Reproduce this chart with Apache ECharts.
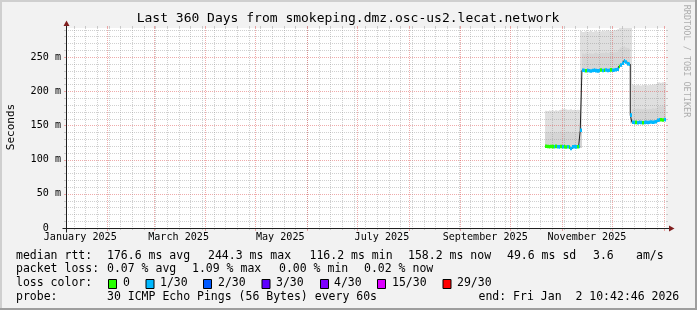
<!DOCTYPE html>
<html><head><meta charset="utf-8">
<script src="https://cdn.jsdelivr.net/npm/echarts@6/dist/echarts.min.js"></script>
<style>html,body{margin:0;padding:0;background:#f2f2f2}#c{width:697px;height:310px}</style>
</head><body><div id="c"></div>
<script>
// ---------------- data ----------------
const TITLE = 'Last 360 Days from smokeping.dmz.osc-us2.lecat.network';
const DAY = 86400000;
const END_TIME = Date.UTC(2026, 0, 2, 10, 42, 46);
const SPAN_DAYS = 360;
const DATA_START = Date.UTC(2025, 9, 22); // first daily bucket (Oct 22 2025)

// daily median RTT (ms)
const medianMs = [
  119.4,119.1,118.8,119.2,119.0,118.7,119.3,118.9,118.6,119.1,118.8,119.0,118.5,118.9,118.2,116.2,118.7,119.0,118.6,118.9,119.3,
  143.0,
  230.5,230.2,229.8,230.4,230.0,229.6,230.3,230.8,230.1,229.7,230.4,230.9,230.2,230.6,231.0,230.3,230.7,231.2,230.5,230.9,231.3,232.0,
  236.2,238.4,241.0,244.3,242.8,240.1,239.4,
  165.0,
  154.6,154.1,154.4,153.9,154.5,154.2,153.8,154.3,154.7,154.2,154.6,155.0,154.5,155.1,155.4,
  157.6,158.1,158.4,157.9,158.5,158.2
];
// lowest ping of the bucket (ms)
const minPingMs = [
  117.8,117.6,117.2,117.5,117.4,117.0,117.6,117.3,116.9,117.4,117.1,117.3,116.8,117.2,116.5,114.9,117.0,117.3,116.9,117.2,117.5,
  117.0,
  228.6,228.3,227.9,228.5,228.1,227.7,228.4,228.8,228.2,227.8,228.5,229.0,228.3,228.7,229.1,228.4,228.8,229.3,228.6,229.0,229.4,230.1,
  233.8,235.9,238.2,241.0,239.6,237.3,236.8,
  153.0,
  152.7,152.2,152.5,152.0,152.6,152.3,151.9,152.4,152.8,152.3,152.7,153.1,152.6,153.2,153.5,
  155.6,156.1,156.4,155.9,156.6,156.3
];
// upper edge of the denser smoke (ms)
const smokeMidMs = [
  139.5,140.2,139.8,140.5,139.6,140.8,140.0,139.4,140.6,141.2,140.3,139.9,140.7,141.0,140.2,139.6,140.8,140.1,139.7,140.4,140.9,
  145.0,
  255.0,254.2,255.6,254.8,256.0,255.3,254.6,255.9,256.4,255.1,254.7,255.8,256.2,255.4,256.8,255.9,256.5,257.0,256.3,257.2,256.8,258.0,
  262.0,264.0,265.0,266.0,264.0,263.0,262.0,
  170.0,
  173.5,174.2,173.8,174.6,173.9,174.4,173.6,174.8,174.1,173.7,174.5,174.0,174.9,174.3,175.2,
  177.6,178.2,177.8,178.5,178.0,178.4
];
// highest ping of the bucket (ms)
const maxPingMs = [
  171.5,171.0,172.0,171.3,171.8,171.0,172.2,171.5,172.5,173.0,173.8,174.2,173.5,173.0,172.8,173.5,172.6,173.2,172.4,173.0,172.5,
  288.0,
  286.5,287.0,287.8,286.9,287.5,288.2,287.0,287.6,288.4,287.2,288.0,287.5,288.6,287.8,288.2,289.0,288.4,287.9,288.8,289.5,289.0,290.5,
  296.0,297.0,296.0,298.0,296.0,297.0,295.0,
  296.0,
  209.5,209.0,208.6,209.3,208.8,208.2,209.0,209.6,209.2,208.7,209.4,209.0,209.8,209.3,210.0,
  212.6,213.2,212.4,213.0,212.8,213.4
];
// loss class index per bucket (index into lossLabels)
const lossIdx = [
  0,0,0,0,0,1,0,1,1,0,1,0,0,1,0,1,1,1,1,0,1,
  1,
  1,1,0,1,1,1,1,1,1,1,1,0,1,0,1,1,1,0,1,1,1,1,0,1,1,1,1,1,1,
  1,
  1,1,0,1,1,1,0,1,1,1,1,1,1,1,1,1,1,0,0,1,1
];

const lossLabels = ['0','1/30','2/30','3/30','4/30','15/30','29/30'];
const lossColors = ['#26ff00','#00b8ff','#0059ff','#5e00ff','#7e00ff','#dd00ff','#ff0000'];

const xLabelText = ['January 2025','March 2025','May 2025','July 2025','September 2025','November 2025'];
const xLabelYear = [2025,2025,2025,2025,2025,2025];
const xLabelMonth = [0,2,4,6,8,10];

const rttStatVals = [176.6, 244.3, 116.2, 158.2];
const rttStatNames = ['avg','max','min','now'];
const rttSd = 49.6;
const rttAmS = 3.6;
const lossStatVals = [0.07, 1.09, 0.00, 0.02];
const probeText = '30 ICMP Echo Pings (56 Bytes) every 60s';
const endText = 'end: Fri Jan  2 10:42:46 2026';

// ---------------- layout / style ----------------
const Y_MAX = 292.4;
const GRID_COL = 'rgba(143,143,143,0.42)';
const MGRID_COL = 'rgba(222,79,79,0.48)';
const SMOKE_LIGHT = '#dfdfdf';
const SMOKE_DARK = '#d5d5d5';
const BAND_HALF = 2.6; // ms
const MONO = '"DejaVu Sans Mono", monospace';

const xMin = END_TIME - SPAN_DAYS * DAY, xMax = END_TIME;

const smokeData = medianMs.map((m, i) => [DATA_START + i * DAY, DATA_START + (i + 1) * DAY, minPingMs[i], smokeMidMs[i], maxPingMs[i]]);
const bandData = medianMs.map((m, i) => [DATA_START + i * DAY, DATA_START + (i + 1) * DAY, m, lossIdx[i]]);
const lineData = medianMs.map((m, i) => [DATA_START + i * DAY, m]);
lineData.push([END_TIME, medianMs[medianMs.length - 1]]);

const hGridData = [];
for (let k = 1; k * 10 < Y_MAX; k++) hGridData.push([xMin, k * 10, k % 5 === 0 ? 1 : 0]);
const vGridData = [];
for (let t = Date.UTC(2025, 0, 5); t < xMax; t += 7 * DAY) if (t > xMin) vGridData.push([t, 0, 0]);
for (let m = 0; m < 14; m++) { const t = Date.UTC(2025, m, 1); if (t > xMin && t < xMax) vGridData.push([t, 0, 1]); }

const xLabelTimes = xLabelText.map((s, i) => Date.UTC(xLabelYear[i], xLabelMonth[i], 1) + 15 * DAY);

function clipTo(cs, r) {
  return echarts.graphic.clipRectByRect(r, { x: cs.x, y: cs.y, width: cs.width, height: cs.height });
}

const chart = echarts.init(document.getElementById('c'), null, { renderer: 'canvas', width: 697, height: 310 });

chart.setOption({
  animation: false,
  backgroundColor: '#f2f2f2',
  grid: { left: 66, top: 28, width: 600, height: 200, show: true, backgroundColor: '#ffffff', borderWidth: 0, containLabel: false, outerBoundsMode: 'none' },
  xAxis: {
    type: 'value', min: xMin, max: xMax,
    axisLine: { show: false }, axisTick: { show: false }, splitLine: { show: false },
    axisLabel: {
      customValues: xLabelTimes,
      margin: 4,
      fontFamily: MONO, fontSize: 10.1, color: '#000',
      formatter: v => { const i = xLabelTimes.indexOf(v); return i >= 0 ? xLabelText[i] : ''; }
    }
  },
  yAxis: {
    type: 'value', min: 0, max: Y_MAX, interval: 50,
    axisLine: { show: false }, axisTick: { show: false }, splitLine: { show: false },
    axisLabel: {
      margin: 5, showMaxLabel: false, showMinLabel: true,
      fontFamily: MONO, fontSize: 10.1, color: '#000',
      formatter: v => v === 0 ? '0  ' : (v + ' m')
    }
  },
  series: [
    {
      type: 'custom', name: 'smoke', z: 1, silent: true,
      data: smokeData, encode: { x: [0, 1], y: [2, 3, 4] },
      renderItem: (params, api) => {
        const cs = params.coordSys;
        const t0 = api.value(0), t1 = api.value(1);
        const pLo = api.coord([t0, api.value(2)]);
        const pMid = api.coord([t1, api.value(3)]);
        const pHi = api.coord([t1, api.value(4)]);
        const x0 = Math.round(pLo[0]), x1 = Math.round(pHi[0]);
        const r1 = clipTo(cs, { x: x0, y: pHi[1], width: x1 - x0, height: pLo[1] - pHi[1] });
        const r2 = clipTo(cs, { x: x0, y: pMid[1], width: x1 - x0, height: pLo[1] - pMid[1] });
        const ch = [];
        if (r1) ch.push({ type: 'rect', shape: r1, style: { fill: SMOKE_LIGHT } });
        if (r2) ch.push({ type: 'rect', shape: r2, style: { fill: SMOKE_DARK } });
        return { type: 'group', children: ch };
      }
    },
    {
      type: 'custom', name: 'hgrid', z: 2, silent: true,
      data: hGridData,
      renderItem: (params, api) => {
        const cs = params.coordSys;
        const y = Math.round(api.coord([api.value(0), api.value(1)])[1]) + 0.5;
        const col = api.value(2) === 1 ? MGRID_COL : GRID_COL;
        const a = cs.x, b = cs.x + cs.width;
        return { type: 'group', children: [
          { type: 'line', shape: { x1: a, y1: y, x2: b, y2: y }, style: { stroke: col, lineWidth: 1, lineDash: [1, 1] } },
          { type: 'line', shape: { x1: a - 2, y1: y, x2: a, y2: y }, style: { stroke: col, lineWidth: 1 } },
          { type: 'line', shape: { x1: b, y1: y, x2: b + 2, y2: y }, style: { stroke: col, lineWidth: 1 } }
        ] };
      }
    },
    {
      type: 'custom', name: 'vgrid', z: 2, silent: true,
      data: vGridData,
      renderItem: (params, api) => {
        const cs = params.coordSys;
        const x = Math.round(api.coord([api.value(0), 0])[0]) + 0.5;
        const major = api.value(2) === 1;
        const col = major ? MGRID_COL : GRID_COL;
        const top = cs.y, bot = cs.y + cs.height;
        return { type: 'group', children: [
          { type: 'line', shape: { x1: x, y1: top, x2: x, y2: bot }, style: { stroke: col, lineWidth: 1, lineDash: [1, 1] } },
          { type: 'line', shape: { x1: x, y1: top - 2, x2: x, y2: top }, style: { stroke: col, lineWidth: 1 } },
          { type: 'line', shape: { x1: x, y1: bot, x2: x, y2: bot + (major ? 3 : 2) }, style: { stroke: col, lineWidth: 1 } }
        ] };
      }
    },
    {
      type: 'line', name: 'median', z: 3, silent: true,
      data: lineData, step: 'end', showSymbol: false, symbol: 'none',
      lineStyle: { color: '#202020', width: 1 }
    },
    {
      type: 'custom', name: 'loss', z: 4, silent: true,
      data: bandData, encode: { x: [0, 1], y: 2 },
      renderItem: (params, api) => {
        const cs = params.coordSys;
        const t0 = api.value(0), t1 = api.value(1), m = api.value(2);
        const pA = api.coord([t0, m + BAND_HALF]);
        const pB = api.coord([t1, m - BAND_HALF]);
        const x0 = Math.round(pA[0]), x1 = Math.round(pB[0]);
        const r = clipTo(cs, { x: x0, y: pA[1], width: x1 - x0, height: pB[1] - pA[1] });
        if (!r) return null;
        return { type: 'rect', shape: r, style: { fill: lossColors[api.value(3)] } };
      }
    }
  ]
});

// ---------- decorations: frame, axes, arrows, texts ----------
const p0 = chart.convertToPixel({ gridIndex: 0 }, [xMin, 0]);
const p1 = chart.convertToPixel({ gridIndex: 0 }, [xMax, Y_MAX]);
const ax = Math.round(p0[0]) + 0.5, ay = Math.round(p0[1]) + 0.5;
const gTop = Math.round(p1[1]), gRight = Math.round(p1[0]);
const AXIS_COL = '#1f1f1f', ARROW_COL = '#801f1f';

const g = [];
// frame
g.push({ type: 'rect', shape: { x: 0, y: 0, width: 697, height: 2 }, style: { fill: '#cfcfcf' }, z: 100 });
g.push({ type: 'rect', shape: { x: 0, y: 0, width: 2, height: 310 }, style: { fill: '#cfcfcf' }, z: 100 });
g.push({ type: 'rect', shape: { x: 695, y: 0, width: 2, height: 310 }, style: { fill: '#9e9e9e' }, z: 101 });
g.push({ type: 'rect', shape: { x: 0, y: 308, width: 697, height: 2 }, style: { fill: '#9e9e9e' }, z: 101 });
// axes
g.push({ type: 'line', shape: { x1: ax, y1: ay + 4, x2: ax, y2: gTop - 2 }, style: { stroke: AXIS_COL, lineWidth: 1 }, z: 50 });
g.push({ type: 'line', shape: { x1: ax - 4, y1: ay, x2: gRight + 3, y2: ay }, style: { stroke: AXIS_COL, lineWidth: 1 }, z: 50 });
g.push({ type: 'polygon', shape: { points: [[ax, gTop - 7.5], [ax - 3, gTop - 2], [ax + 3, gTop - 2]] }, style: { fill: ARROW_COL }, z: 51 });
g.push({ type: 'polygon', shape: { points: [[gRight + 8.5, ay], [gRight + 3, ay - 3], [gRight + 3, ay + 3]] }, style: { fill: ARROW_COL }, z: 51 });

function txt(text, x, y, size) {
  return { type: 'text', x: x, y: y, z: 60, style: { text: text, fontFamily: MONO, fontSize: size, fill: '#000', align: 'left', verticalAlign: 'middle' } };
}
// title
g.push({ type: 'text', x: 348, y: 19, z: 60, style: { text: TITLE, fontFamily: MONO, fontSize: 13, fill: '#000', align: 'center', verticalAlign: 'middle' } });
// y axis name
g.push({ type: 'text', x: 11, y: 127, rotation: Math.PI / 2, z: 60, style: { text: 'Seconds', fontFamily: MONO, fontSize: 11, fill: '#000', align: 'center', verticalAlign: 'middle' } });
// watermark
g.push({ type: 'text', x: 686.5, y: 61, rotation: -Math.PI / 2, z: 60, style: { text: 'RRDTOOL / TOBI OETIKER', fontFamily: MONO, fontSize: 8.5, fill: 'rgba(0,0,0,0.3)', align: 'center', verticalAlign: 'middle' } });

// legend
const LG = 11.5;
const rowY = [256.5, 269.5, 283.5, 297.5];
const rttX = [107, 208, 309.5, 408];
g.push(txt('median rtt:', 16, rowY[0], LG));
rttStatVals.forEach((v, i) => g.push(txt(v.toFixed(1) + ' ms ' + rttStatNames[i], rttX[i], rowY[0], LG)));
g.push(txt(rttSd.toFixed(1) + ' ms sd', 507, rowY[0], LG));
g.push(txt(rttAmS.toFixed(1), 593, rowY[0], LG));
g.push(txt('am/s', 636, rowY[0], LG));

const lossX = [107, 192, 279, 364];
g.push(txt('packet loss:', 16, rowY[1], LG));
lossStatVals.forEach((v, i) => g.push(txt(v.toFixed(2) + ' % ' + rttStatNames[i], lossX[i], rowY[1], LG)));

const boxX = [108, 145.5, 203, 261.5, 320, 377, 442.5];
const boxLabelX = [123, 160, 218, 276, 334, 392, 457];
g.push(txt('loss color:', 16, rowY[2], LG));
lossLabels.forEach((s, i) => {
  g.push({ type: 'rect', z: 60, shape: { x: boxX[i] + 0.5, y: Math.round(rowY[2] - 4.5) + 0.5, width: 8, height: 9 }, style: { fill: lossColors[i], stroke: '#000', lineWidth: 1 } });
  g.push(txt(s, boxLabelX[i], rowY[2], LG));
});

g.push(txt('probe:', 16, rowY[3], LG));
g.push(txt(probeText, 107, rowY[3], LG));
g.push(txt(endText, 478.5, rowY[3], LG));

chart.setOption({ graphic: g });
</script>
</body></html>
